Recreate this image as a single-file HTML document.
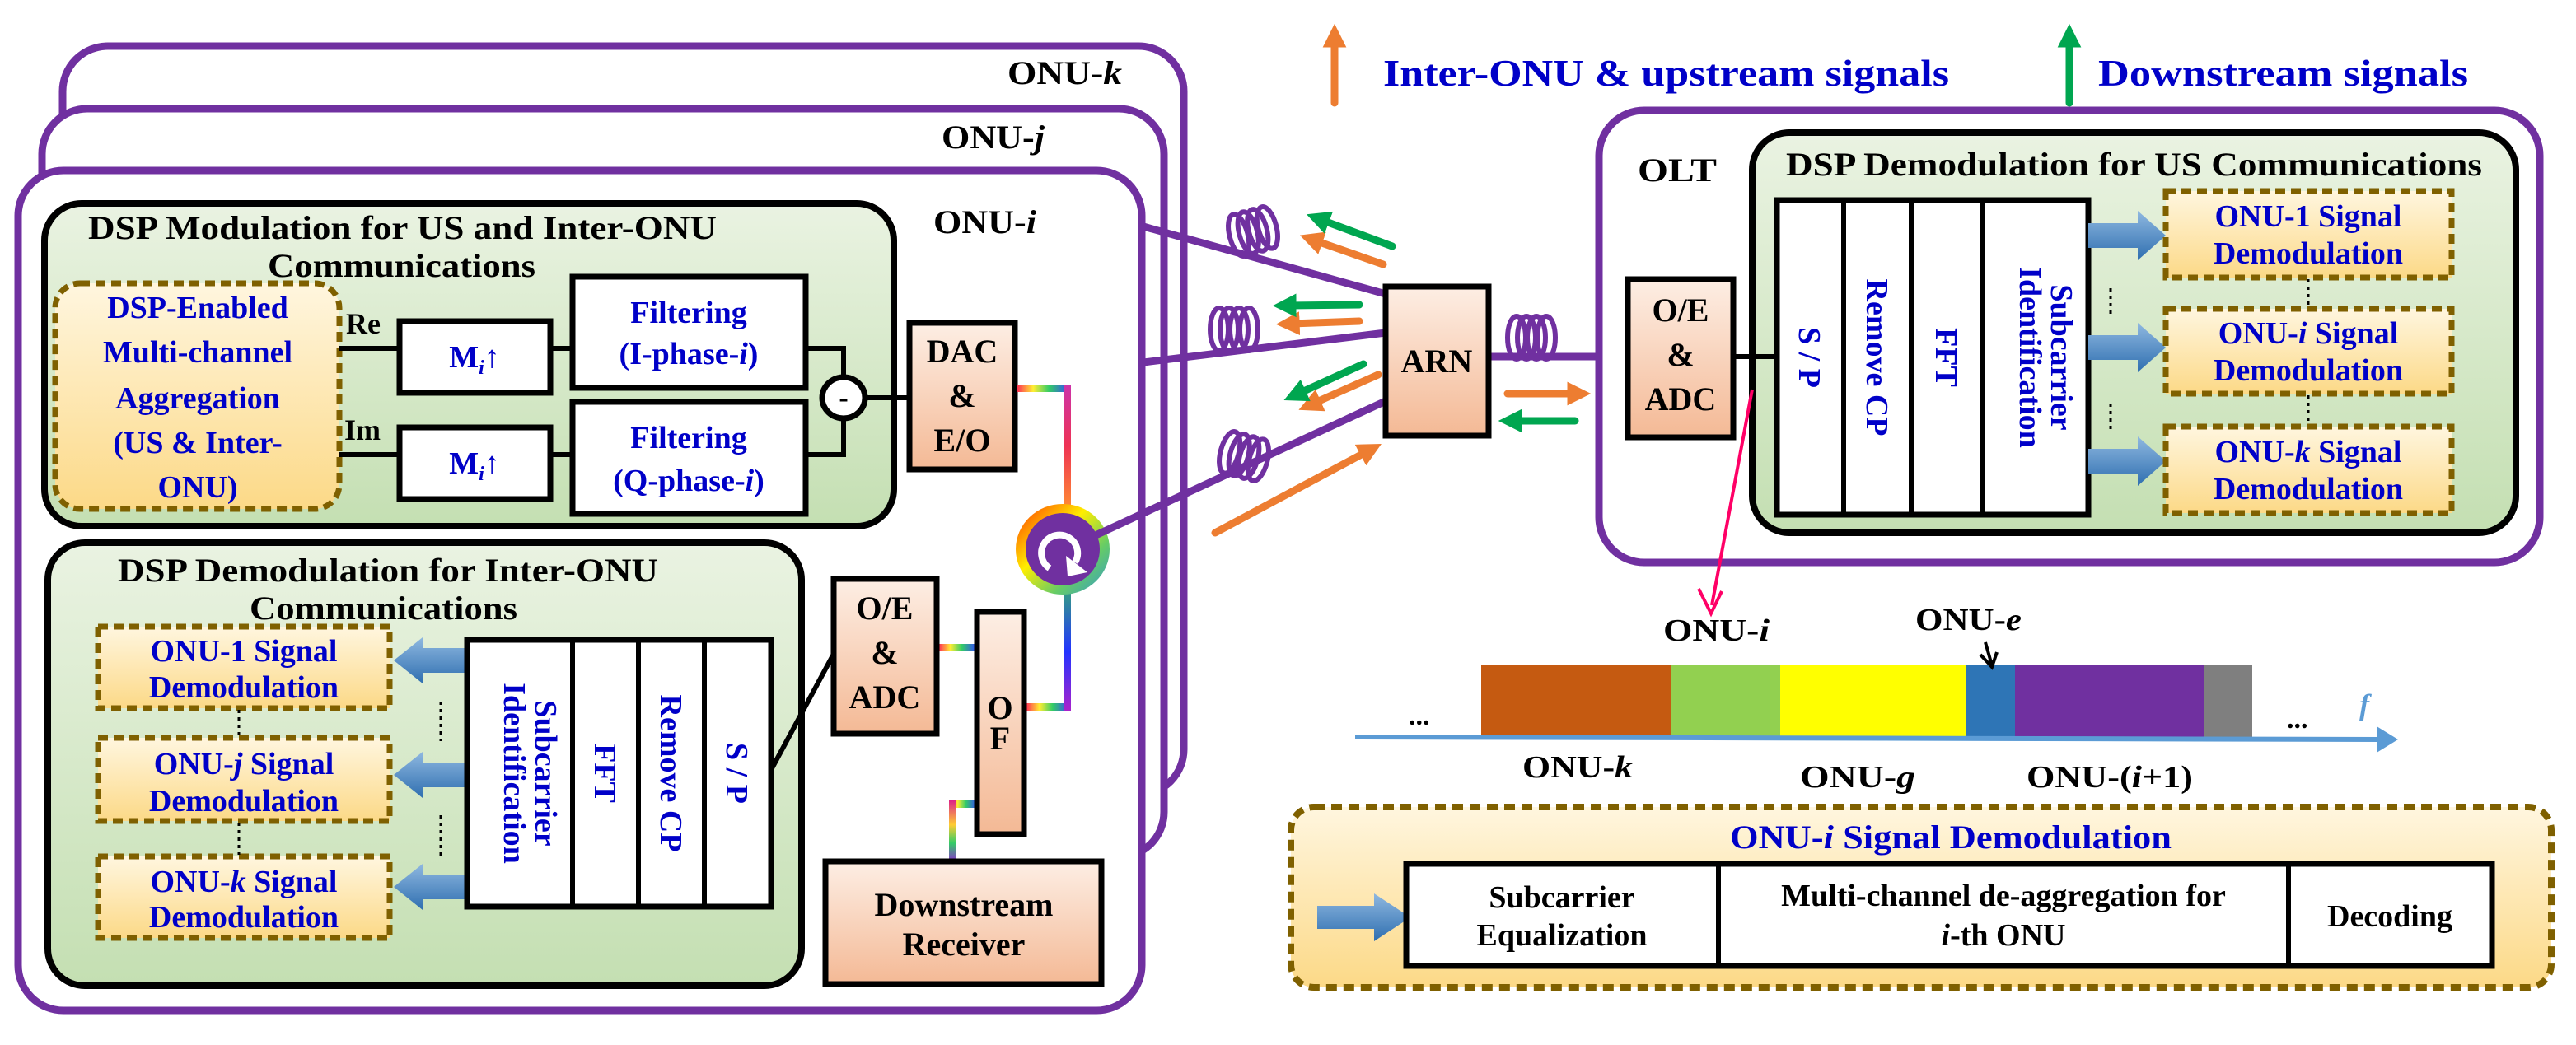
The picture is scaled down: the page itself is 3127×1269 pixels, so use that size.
<!DOCTYPE html>
<html><head><meta charset="utf-8"><style>
html,body{margin:0;padding:0;background:#fff}
svg{display:block}
text{font-family:"Liberation Serif",serif;font-weight:bold}
.b{fill:#0000c8}
.k{fill:#000}
</style></head><body>
<svg width="3127" height="1269" viewBox="0 0 3127 1269" xmlns="http://www.w3.org/2000/svg">
<defs>
<linearGradient id="pe" x1="0" y1="0" x2="0" y2="1"><stop offset="0" stop-color="#fdeee4"/><stop offset="1" stop-color="#f4b995"/></linearGradient>
<linearGradient id="gr" x1="0" y1="0" x2="0" y2="1"><stop offset="0" stop-color="#eaf3e2"/><stop offset="1" stop-color="#c4dfb2"/></linearGradient>
<linearGradient id="ye" x1="0" y1="0" x2="0" y2="1"><stop offset="0" stop-color="#fff6df"/><stop offset="1" stop-color="#fcd987"/></linearGradient>
<linearGradient id="rbh" x1="0" y1="0" x2="1" y2="0"><stop offset="0" stop-color="#ff3355"/><stop offset=".3" stop-color="#ffee33"/><stop offset=".6" stop-color="#33cc66"/><stop offset="1" stop-color="#3344ff"/></linearGradient>
<linearGradient id="rbv3" x1="0" y1="0" x2="0" y2="1"><stop offset="0" stop-color="#dd2288"/><stop offset=".4" stop-color="#ffcc33"/><stop offset=".7" stop-color="#33cc66"/><stop offset="1" stop-color="#8833cc"/></linearGradient>
<linearGradient id="rbv1" x1="0" y1="0" x2="0" y2="1"><stop offset="0" stop-color="#cc33aa"/><stop offset=".5" stop-color="#ee3355"/><stop offset="1" stop-color="#ff8833"/></linearGradient>
<linearGradient id="rbv2" x1="0" y1="0" x2="0" y2="1"><stop offset="0" stop-color="#339988"/><stop offset=".5" stop-color="#2233ff"/><stop offset="1" stop-color="#aa22cc"/></linearGradient>
<linearGradient id="rbc" x1="0" y1="0" x2="1" y2="1"><stop offset="0" stop-color="#ff3300"/><stop offset=".4" stop-color="#ffee00"/><stop offset=".7" stop-color="#66cc66"/><stop offset="1" stop-color="#3399cc"/></linearGradient>
<linearGradient id="bl" x1="0" y1="0" x2="0" y2="1"><stop offset="0" stop-color="#8fb8e0"/><stop offset="1" stop-color="#2f6fb0"/></linearGradient>
<marker id="ah" viewBox="0 0 6 6" markerWidth="3.2" markerHeight="3.2" refX="2" refY="3" orient="auto"><path d="M0,0 L6,3 L0,6 Z" fill="context-stroke"/></marker>
</defs>

<!-- ONU stacks -->
<rect x="76" y="56" width="1361" height="909" rx="55" fill="#fff" stroke="#7030a0" stroke-width="9"/>
<rect x="51" y="132" width="1362" height="909" rx="55" fill="#fff" stroke="#7030a0" stroke-width="9"/>
<rect x="22" y="207" width="1364" height="1020" rx="55" fill="#fff" stroke="#7030a0" stroke-width="9"/>
<text x="1223" y="102" class="k" font-size="40" textLength="139" lengthAdjust="spacingAndGlyphs">ONU-<tspan font-style="italic">k</tspan></text>
<text x="1143" y="180" class="k" font-size="40" textLength="125" lengthAdjust="spacingAndGlyphs">ONU-<tspan font-style="italic">j</tspan></text>
<text x="1133" y="283" class="k" font-size="40" textLength="125" lengthAdjust="spacingAndGlyphs">ONU-<tspan font-style="italic">i</tspan></text>

<!-- DSP modulation -->
<rect x="54" y="247" width="1031" height="392" rx="45" fill="url(#gr)" stroke="#000" stroke-width="8"/>
<text x="107" y="290" class="k" font-size="40" textLength="763" lengthAdjust="spacingAndGlyphs">DSP Modulation for US and Inter-ONU</text>
<text x="325" y="336" class="k" font-size="40" textLength="325" lengthAdjust="spacingAndGlyphs">Communications</text>
<rect x="67" y="344" width="345" height="274" rx="30" fill="url(#ye)" stroke="#7f6000" stroke-width="7" stroke-dasharray="12,7"/>
<g class="b" font-size="38" text-anchor="middle">
<text x="240" y="386">DSP-Enabled</text>
<text x="240" y="440">Multi-channel</text>
<text x="240" y="496">Aggregation</text>
<text x="240" y="550">(US &amp; Inter-</text>
<text x="240" y="604">ONU)</text>
</g>
<text x="420" y="405" class="k" font-size="36">Re</text>
<text x="418" y="534" class="k" font-size="36">Im</text>
<g stroke="#000" stroke-width="6" fill="none">
<path d="M412 423 H485"/><path d="M412 552 H485"/>
<path d="M668 423 H695"/><path d="M668 552 H695"/>
<path d="M978 423 H1024 V458"/><path d="M978 552 H1024 V508"/>
<path d="M1051 483 H1104"/>
</g>
<rect x="485" y="390" width="183" height="87" fill="#fff" stroke="#000" stroke-width="7"/>
<rect x="485" y="519" width="183" height="87" fill="#fff" stroke="#000" stroke-width="7"/>
<text x="576" y="446" class="b" font-size="38" text-anchor="middle">M<tspan font-size="24" font-style="italic" dy="8">i</tspan><tspan dy="-8">↑</tspan></text>
<text x="576" y="575" class="b" font-size="38" text-anchor="middle">M<tspan font-size="24" font-style="italic" dy="8">i</tspan><tspan dy="-8">↑</tspan></text>
<rect x="695" y="336" width="283" height="135" fill="#fff" stroke="#000" stroke-width="7"/>
<rect x="695" y="488" width="283" height="136" fill="#fff" stroke="#000" stroke-width="7"/>
<g class="b" font-size="38" text-anchor="middle">
<text x="836" y="392">Filtering</text>
<text x="836" y="442">(I-phase-<tspan font-style="italic">i</tspan>)</text>
<text x="836" y="544">Filtering</text>
<text x="836" y="596">(Q-phase-<tspan font-style="italic">i</tspan>)</text>
</g>
<ellipse cx="1024" cy="483" rx="26" ry="25" fill="#fff" stroke="#000" stroke-width="7"/>
<text x="1024" y="494" class="k" font-size="34" text-anchor="middle">-</text>
<rect x="1104" y="392" width="128" height="178" fill="url(#pe)" stroke="#000" stroke-width="7"/>
<g class="k" font-size="40" text-anchor="middle">
<text x="1168" y="440">DAC</text><text x="1168" y="494">&amp;</text><text x="1168" y="548">E/O</text>
</g>

<!-- rainbow fibers (rects) -->
<rect x="1235" y="467" width="64" height="9" fill="url(#rbh)"/>
<rect x="1291" y="467" width="9" height="148" fill="url(#rbv1)"/>
<rect x="1140" y="782" width="46" height="9" fill="url(#rbh)"/>
<rect x="1246" y="854" width="53" height="9" fill="url(#rbh)"/>
<rect x="1291" y="720" width="9" height="143" fill="url(#rbv2)"/>
<rect x="1152" y="972" width="34" height="9" fill="url(#rbh)"/>
<rect x="1152" y="972" width="9" height="74" fill="url(#rbv3)"/>

<!-- circulator -->
<ellipse cx="1290" cy="667" rx="57" ry="55" fill="url(#rbc)"/>
<ellipse cx="1290" cy="667" rx="45" ry="44" fill="#7030a0"/>
<path d="M1274 690 A22 22 0 1 1 1305 683" stroke="#fff" stroke-width="8" fill="none"/>
<path d="M1294 675 L1320 695 L1296 700 Z" fill="#fff"/>

<!-- DSP demod inter-ONU -->
<rect x="58" y="659" width="915" height="538" rx="45" fill="url(#gr)" stroke="#000" stroke-width="8"/>
<text x="143" y="706" class="k" font-size="40" textLength="656" lengthAdjust="spacingAndGlyphs">DSP Demodulation for Inter-ONU</text>
<text x="303" y="752" class="k" font-size="40" textLength="325" lengthAdjust="spacingAndGlyphs">Communications</text>
<g fill="url(#ye)" stroke="#7f6000" stroke-width="7" stroke-dasharray="12,7">
<rect x="119" y="761" width="354" height="99"/>
<rect x="119" y="896" width="354" height="101"/>
<rect x="119" y="1040" width="354" height="99"/>
</g>
<g stroke="#000" stroke-width="3" stroke-dasharray="4,5"><path d="M290 862 V894"/><path d="M290 999 V1038"/><path d="M535 852 V900"/><path d="M535 990 V1040"/></g>
<g class="b" font-size="38" text-anchor="middle">
<text x="296" y="803">ONU-1 Signal</text><text x="296" y="847">Demodulation</text>
<text x="296" y="940">ONU-<tspan font-style="italic">j</tspan> Signal</text><text x="296" y="985">Demodulation</text>
<text x="296" y="1083">ONU-<tspan font-style="italic">k</tspan> Signal</text><text x="296" y="1126">Demodulation</text>
</g>
<g fill="url(#bl)">
<path d="M567 787 H513 V774 L478 802 L513 830 V817 H567 Z"/>
<path d="M567 926 H513 V913 L478 941 L513 969 V956 H567 Z"/>
<path d="M567 1062 H513 V1049 L478 1077 L513 1105 V1092 H567 Z"/>
</g>
<rect x="567" y="777" width="369" height="324" fill="#fff" stroke="#000" stroke-width="7"/>
<g stroke="#000" stroke-width="6"><path d="M695 777 V1101"/><path d="M775 777 V1101"/><path d="M855 777 V1101"/></g>
<g class="b" font-size="38" text-anchor="middle">
<text transform="translate(650,939) rotate(90)">Subcarrier</text>
<text transform="translate(612,939) rotate(90)">Identification</text>
<text transform="translate(722,939) rotate(90)">FFT</text>
<text transform="translate(802,939) rotate(90)">Remove CP</text>
<text transform="translate(882,939) rotate(90)">S / P</text>
</g>
<path d="M936 935 L1012 794" stroke="#000" stroke-width="6"/>
<rect x="1012" y="703" width="125" height="188" fill="url(#pe)" stroke="#000" stroke-width="7"/>
<g class="k" font-size="40" text-anchor="middle">
<text x="1074" y="752">O/E</text><text x="1074" y="806">&amp;</text><text x="1074" y="860">ADC</text>
</g>
<rect x="1186" y="743" width="57" height="270" fill="url(#pe)" stroke="#000" stroke-width="7"/>
<text x="1214" y="873" class="k" font-size="40" text-anchor="middle">O</text>
<text x="1214" y="910" class="k" font-size="40" text-anchor="middle">F</text>
<rect x="1002" y="1046" width="335" height="149" fill="url(#pe)" stroke="#000" stroke-width="7"/>
<text x="1170" y="1112" class="k" font-size="40" text-anchor="middle">Downstream</text>
<text x="1170" y="1160" class="k" font-size="40" text-anchor="middle">Receiver</text>

<!-- fibers to ARN -->
<g stroke="#7030a0" stroke-width="9" fill="none">
<path d="M1388 275 L1682 357"/>
<path d="M1388 440 L1682 404"/>
<path d="M1330 650 L1682 487"/>
<path d="M1807 433 L1976 433"/>
</g>
<g stroke="#7030a0" stroke-width="6" fill="none">
<g transform="translate(1521,281) rotate(-15)"><ellipse cx="-18" cy="0" rx="11" ry="26"/><ellipse cx="-6" cy="0" rx="11" ry="26"/><ellipse cx="6" cy="0" rx="11" ry="26"/><ellipse cx="18" cy="0" rx="11" ry="26"/></g>
<g transform="translate(1498,400)"><ellipse cx="-18" cy="0" rx="11" ry="26"/><ellipse cx="-6" cy="0" rx="11" ry="26"/><ellipse cx="6" cy="0" rx="11" ry="26"/><ellipse cx="18" cy="0" rx="11" ry="26"/></g>
<g transform="translate(1510,554) rotate(15)"><ellipse cx="-18" cy="0" rx="11" ry="26"/><ellipse cx="-6" cy="0" rx="11" ry="26"/><ellipse cx="6" cy="0" rx="11" ry="26"/><ellipse cx="18" cy="0" rx="11" ry="26"/></g>
<g transform="translate(1859,410)"><ellipse cx="-18" cy="0" rx="11" ry="26"/><ellipse cx="-6" cy="0" rx="11" ry="26"/><ellipse cx="6" cy="0" rx="11" ry="26"/><ellipse cx="18" cy="0" rx="11" ry="26"/></g>
</g>
<rect x="1682" y="348" width="125" height="181" fill="url(#pe)" stroke="#000" stroke-width="7"/>
<text x="1744" y="452" class="k" font-size="40" text-anchor="middle">ARN</text>

<!-- signal arrows -->
<g stroke-width="9" fill="none" stroke-linecap="round">
<path d="M1679 321 L1596 292" stroke="#ed7d31" marker-end="url(#ah)"/>
<path d="M1690 299 L1604 267" stroke="#00a650" marker-end="url(#ah)"/>
<path d="M1650 390 L1568 393" stroke="#ed7d31" marker-end="url(#ah)"/>
<path d="M1650 370 L1564 371" stroke="#00a650" marker-end="url(#ah)"/>
<path d="M1673 455 L1594 490" stroke="#ed7d31" marker-end="url(#ah)"/>
<path d="M1655 442 L1576 478" stroke="#00a650" marker-end="url(#ah)"/>
<path d="M1830 478 L1912 478" stroke="#ed7d31" marker-end="url(#ah)"/>
<path d="M1912 511 L1838 511" stroke="#00a650" marker-end="url(#ah)"/>
<path d="M1475 647 L1660 548" stroke="#ed7d31" marker-end="url(#ah)"/>
<path d="M1620 125 L1620 48" stroke="#ed7d31" marker-end="url(#ah)"/>
<path d="M2512 125 L2512 48" stroke="#00a650" marker-end="url(#ah)"/>
</g>
<text x="1679" y="104" class="b" font-size="46" textLength="687" lengthAdjust="spacingAndGlyphs">Inter-ONU &amp; upstream signals</text>
<text x="2547" y="104" class="b" font-size="46" textLength="449" lengthAdjust="spacingAndGlyphs">Downstream signals</text>

<!-- OLT -->
<rect x="1941" y="134" width="1142" height="549" rx="55" fill="#fff" stroke="#7030a0" stroke-width="9"/>
<text x="1988" y="220" class="k" font-size="40" textLength="96" lengthAdjust="spacingAndGlyphs">OLT</text>
<rect x="2127" y="161" width="927" height="486" rx="45" fill="url(#gr)" stroke="#000" stroke-width="8"/>
<text x="2168" y="213" class="k" font-size="40" textLength="845" lengthAdjust="spacingAndGlyphs">DSP Demodulation for US Communications</text>
<rect x="1976" y="339" width="128" height="192" fill="url(#pe)" stroke="#000" stroke-width="7"/>
<g class="k" font-size="40" text-anchor="middle">
<text x="2040" y="390">O/E</text><text x="2040" y="444">&amp;</text><text x="2040" y="498">ADC</text>
</g>
<path d="M2104 433 H2157" stroke="#000" stroke-width="6"/>
<rect x="2157" y="243" width="378" height="382" fill="#fff" stroke="#000" stroke-width="7"/>
<g stroke="#000" stroke-width="6"><path d="M2238 243 V625"/><path d="M2320 243 V625"/><path d="M2407 243 V625"/></g>
<g class="b" font-size="38" text-anchor="middle">
<text transform="translate(2184,434) rotate(90)">S / P</text>
<text transform="translate(2266,434) rotate(90)">Remove CP</text>
<text transform="translate(2350,434) rotate(90)">FFT</text>
<text transform="translate(2490,434) rotate(90)">Subcarrier</text>
<text transform="translate(2452,434) rotate(90)">Identification</text>
</g>
<g fill="url(#bl)">
<path d="M2535 271 H2595 V256 L2629 286 L2595 316 V301 H2535 Z"/>
<path d="M2535 407 H2595 V392 L2629 422 L2595 452 V437 H2535 Z"/>
<path d="M2535 545 H2595 V530 L2629 560 L2595 590 V575 H2535 Z"/>
</g>
<g fill="url(#ye)" stroke="#7f6000" stroke-width="7" stroke-dasharray="12,7">
<rect x="2629" y="232" width="347" height="105"/>
<rect x="2629" y="375" width="347" height="103"/>
<rect x="2629" y="518" width="347" height="105"/>
</g>
<g stroke="#000" stroke-width="3" stroke-dasharray="4,5"><path d="M2802 339 V373"/><path d="M2802 480 V516"/><path d="M2562 350 V385"/><path d="M2562 490 V525"/></g>
<g class="b" font-size="38" text-anchor="middle">
<text x="2802" y="275">ONU-1 Signal</text><text x="2802" y="320">Demodulation</text>
<text x="2802" y="417">ONU-<tspan font-style="italic">i</tspan> Signal</text><text x="2802" y="462">Demodulation</text>
<text x="2802" y="561">ONU-<tspan font-style="italic">k</tspan> Signal</text><text x="2802" y="606">Demodulation</text>
</g>

<!-- pink arrow -->
<path d="M2127 473 L2078 735" stroke="#ff0066" stroke-width="4" fill="none"/>
<path d="M2062 715 L2077 745 L2090 718" stroke="#ff0066" stroke-width="4" fill="none"/>

<!-- spectrum -->
<rect x="1798" y="808" width="231" height="87" fill="#c55a11"/>
<rect x="2029" y="808" width="132" height="87" fill="#92d050"/>
<rect x="2161" y="808" width="226" height="87" fill="#ffff00"/>
<rect x="2387" y="808" width="59" height="87" fill="#2e75b6"/>
<rect x="2446" y="808" width="229" height="87" fill="#7030a0"/>
<rect x="2675" y="808" width="59" height="87" fill="#7f7f7f"/>
<path d="M1645 895 L2890 898" stroke="#5b9bd5" stroke-width="6"/>
<path d="M2885 882 L2911 898 L2885 914 Z" fill="#5b9bd5"/>
<text x="2864" y="868" fill="#5b9bd5" font-size="36" font-style="italic">f</text>
<text x="1710" y="880" class="k" font-size="34">...</text>
<text x="2776" y="884" class="k" font-size="34">...</text>
<text x="2019" y="778" class="k" font-size="38" textLength="129" lengthAdjust="spacingAndGlyphs">ONU-<tspan font-style="italic">i</tspan></text>
<text x="2325" y="765" class="k" font-size="38" textLength="129" lengthAdjust="spacingAndGlyphs">ONU-<tspan font-style="italic">e</tspan></text>
<path d="M2410 780 L2418 808" stroke="#000" stroke-width="4"/>
<path d="M2404 795 L2418 810 L2424 792" stroke="#000" stroke-width="4" fill="none"/>
<text x="1848" y="944" class="k" font-size="38" textLength="134" lengthAdjust="spacingAndGlyphs">ONU-<tspan font-style="italic">k</tspan></text>
<text x="2185" y="956" class="k" font-size="38" textLength="140" lengthAdjust="spacingAndGlyphs">ONU-<tspan font-style="italic">g</tspan></text>
<text x="2460" y="956" class="k" font-size="38" textLength="202" lengthAdjust="spacingAndGlyphs">ONU-(<tspan font-style="italic">i</tspan>+1)</text>

<!-- ONU-i demod detail -->
<rect x="1567" y="980" width="1530" height="219" rx="28" fill="url(#ye)" stroke="#7f6000" stroke-width="8" stroke-dasharray="13,8"/>
<text x="2100" y="1030" class="b" font-size="40" textLength="536" lengthAdjust="spacingAndGlyphs">ONU-<tspan font-style="italic">i</tspan> Signal Demodulation</text>
<path d="M1599 1100 H1668 V1085 L1712 1114 L1668 1143 V1128 H1599 Z" fill="url(#bl)"/>
<rect x="1707" y="1049" width="1318" height="124" fill="#fff" stroke="#000" stroke-width="7"/>
<g stroke="#000" stroke-width="6"><path d="M2086 1049 V1173"/><path d="M2778 1049 V1173"/></g>
<g class="k" font-size="38" text-anchor="middle">
<text x="1896" y="1102">Subcarrier</text><text x="1896" y="1148">Equalization</text>
<text x="2432" y="1100">Multi-channel de-aggregation for</text><text x="2432" y="1148"><tspan font-style="italic">i</tspan>-th ONU</text>
<text x="2901" y="1125">Decoding</text>
</g>
</svg>
</body></html>
